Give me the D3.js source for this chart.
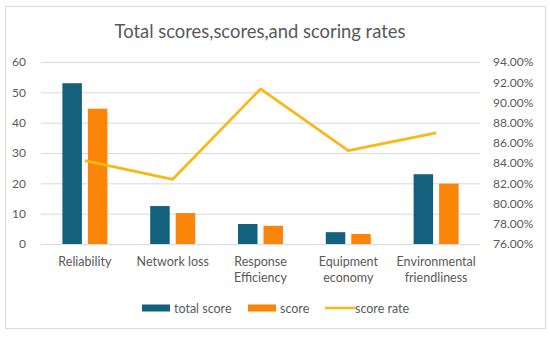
<!DOCTYPE html>
<html>
<head>
<meta charset="utf-8">
<script src="https://cdn.jsdelivr.net/npm/d3@7"></script>
<style>
  body { margin: 0; background: #fff; }
  text { font-family: Lato, "Open Sans", sans-serif; fill: #595959; }
</style>
</head>
<body>
<svg id="chart" width="550" height="337"></svg>
<script>
const categories = [["Reliability"], ["Network loss"], ["Response", "Efficiency"], ["Equipment", "economy"], ["Environmental", "friendliness"]];
const totalScore = [53, 12.5, 6.6, 3.9, 23];
const score = [44.6, 10.2, 6.0, 3.3, 19.9];
const scoreRate = [0.8424, 0.824, 0.9133, 0.8523, 0.870];
const leftTicks = [0, 10, 20, 30, 40, 50, 60];
const rightTicks = [0.76, 0.78, 0.80, 0.82, 0.84, 0.86, 0.88, 0.90, 0.92, 0.94];

const colors = { total: "#14617E", score: "#FB8508", rate: "#F9B816" };

const svg = d3.select("#chart");
const margin = { top: 62, right: 70, bottom: 93, left: 41 };
const width = 550 - margin.left - margin.right;
const height = 337 - margin.top - margin.bottom;

// frame
svg.append("rect")
  .attr("x", 5.5).attr("y", 6.5)
  .attr("width", 540).attr("height", 322)
  .attr("fill", "#fff").attr("stroke", "#d9d9d9");

svg.append("text")
  .attr("x", 260).attr("y", 38)
  .attr("text-anchor", "middle")
  .style("font-size", "18.4px")
  .text("Total scores,scores,and scoring rates");

const g = svg.append("g").attr("transform", `translate(${margin.left},${margin.top})`);

const x = d3.scaleBand().domain(d3.range(categories.length)).range([0, width]);
const yL = d3.scaleLinear().domain([0, 60]).range([height, 0]);
const yR = d3.scaleLinear().domain([0.76, 0.94]).range([height, 0]);

// gridlines
g.selectAll("line.grid")
  .data(leftTicks)
  .join("line")
  .attr("class", "grid")
  .attr("x1", 0).attr("x2", width)
  .attr("y1", d => yL(d) + 0.5).attr("y2", d => yL(d) + 0.5)
  .attr("stroke", "#d9d9d9");

// left axis
const axL = g.append("g")
  .call(d3.axisLeft(yL).tickValues(leftTicks).tickSize(0).tickPadding(15));
axL.select(".domain").remove();
axL.selectAll("text").style("font-size", "12px").attr("fill", "#595959");

// right axis
const axR = g.append("g")
  .attr("transform", `translate(${width},0)`)
  .call(d3.axisRight(yR).tickValues(rightTicks).tickSize(0).tickPadding(13)
    .tickFormat(d => (d * 100).toFixed(2) + "%"));
axR.select(".domain").remove();
axR.selectAll("text").style("font-size", "12px").attr("fill", "#595959");

// bars
const barW = 19.5, gap = 6;
g.selectAll("rect.total")
  .data(totalScore)
  .join("rect")
  .attr("class", "total")
  .attr("x", (d, i) => x(i) + x.bandwidth() / 2 - gap / 2 - barW)
  .attr("width", barW)
  .attr("y", d => yL(d))
  .attr("height", d => yL(0) - yL(d))
  .attr("fill", colors.total);

g.selectAll("rect.score")
  .data(score)
  .join("rect")
  .attr("class", "score")
  .attr("x", (d, i) => x(i) + x.bandwidth() / 2 + gap / 2)
  .attr("width", barW)
  .attr("y", d => yL(d))
  .attr("height", d => yL(0) - yL(d))
  .attr("fill", colors.score);

// line
const line = d3.line()
  .x((d, i) => x(i) + x.bandwidth() / 2)
  .y(d => yR(d));
g.append("path")
  .datum(scoreRate)
  .attr("d", line)
  .attr("fill", "none")
  .attr("stroke", colors.rate)
  .attr("stroke-width", 2.75)
  .attr("stroke-linejoin", "round");

// category labels
const cat = g.selectAll("text.cat")
  .data(categories)
  .join("text")
  .attr("class", "cat")
  .attr("text-anchor", "middle")
  .style("font-size", "12.5px")
  .attr("transform", (d, i) => `translate(${x(i) + x.bandwidth() / 2},${height + 22})`);
cat.selectAll("tspan")
  .data(d => d)
  .join("tspan")
  .attr("x", 0)
  .attr("dy", (d, i) => i === 0 ? 0 : 16)
  .text(d => d);

// legend
const legend = svg.append("g").attr("transform", "translate(0,308)");
const items = [
  { name: "total score", color: colors.total, type: "rect", x: 142 },
  { name: "score", color: colors.score, type: "rect", x: 248 },
  { name: "score rate", color: colors.rate, type: "line", x: 325 }
];
items.forEach(it => {
  if (it.type === "rect") {
    legend.append("rect").attr("x", it.x).attr("y", -3.5).attr("width", 28).attr("height", 7).attr("fill", it.color);
  } else {
    legend.append("line").attr("x1", it.x).attr("x2", it.x + 30).attr("y1", 0).attr("y2", 0)
      .attr("stroke", it.color).attr("stroke-width", 2.5);
  }
  legend.append("text").attr("x", it.x + (it.type === "rect" ? 32 : 30)).attr("y", 4.5)
    .style("font-size", "12.5px").text(it.name);
});
</script>
</body>
</html>
